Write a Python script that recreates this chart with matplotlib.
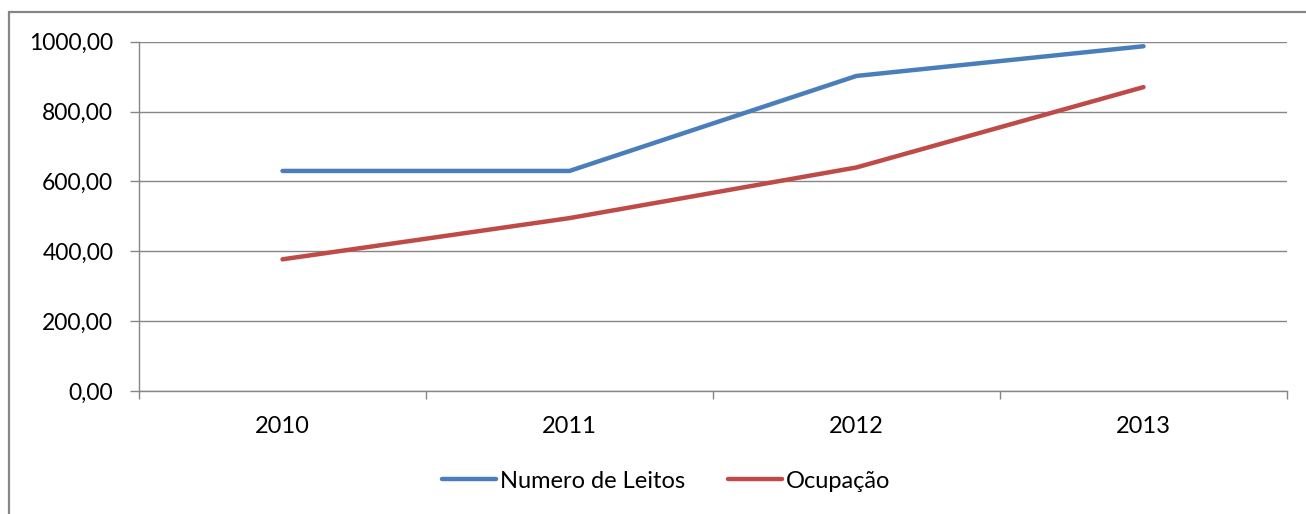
import matplotlib
matplotlib.use("Agg")
import matplotlib.pyplot as plt
from matplotlib.patches import Rectangle
from matplotlib.ticker import FuncFormatter, FixedLocator

years = ["2010", "2011", "2012", "2013"]
leitos = [630, 630, 902, 987]
ocupacao = [377, 495, 640, 870]
yticks = [0, 200, 400, 600, 800, 1000]

W, H = 1306, 514
fig = plt.figure(figsize=(W / 100, H / 100), dpi=100)
plt.rcParams['font.family'] = ['Lato', 'DejaVu Sans']

# outer chart frame
fig.patches.append(Rectangle((9 / W, 0 - 0.01), 1.05, 1 - 12 / H + 0.01,
                             transform=fig.transFigure, fill=False,
                             edgecolor="#868686", linewidth=1.6))

ax = fig.add_axes([139 / W, 1 - 391 / H, (1287 - 139) / W, (391 - 41.7) / H])
x = list(range(len(years)))
l1, = ax.plot(x, leitos, color="#4A7EBB", linewidth=3.2, solid_capstyle="round",
              label="Numero de Leitos")
l2, = ax.plot(x, ocupacao, color="#BE4B48", linewidth=3.2, solid_capstyle="round",
              label="Ocupação")

ax.set_xlim(-0.5, 3.5)
ax.set_ylim(0, 1000)
ax.set_yticks(yticks)
ax.yaxis.set_major_formatter(FuncFormatter(lambda v, p: f"{v:.2f}".replace(".", ",")))
ax.grid(axis="y", color="#868686", linewidth=1.0)
ax.set_axisbelow(True)

ax.set_xticks(x)
ax.set_xticklabels(years)
ax.xaxis.set_minor_locator(FixedLocator([-0.5, 0.5, 1.5, 2.5, 3.5]))
ax.tick_params(axis="x", which="major", length=0, pad=18, labelsize=17, colors="black")
ax.tick_params(axis="x", which="minor", length=6, color="#868686", width=1.0)
ax.tick_params(axis="y", length=6.5, color="#868686", width=1.0, pad=12, labelsize=16.5)

for s in ["top", "right"]:
    ax.spines[s].set_visible(False)
ax.spines["left"].set_color("#868686")
ax.spines["bottom"].set_color("#868686")
ax.spines["left"].set_linewidth(1.0)
ax.spines["bottom"].set_linewidth(1.0)

fig.legend(handles=[l1, l2], loc="center", bbox_to_anchor=(666 / W, 1 - 481 / H),
           ncol=2, frameon=False, fontsize=17, handlelength=2.3,
           handletextpad=0.15, columnspacing=1.8)

fig.savefig("out.png", dpi=100)
